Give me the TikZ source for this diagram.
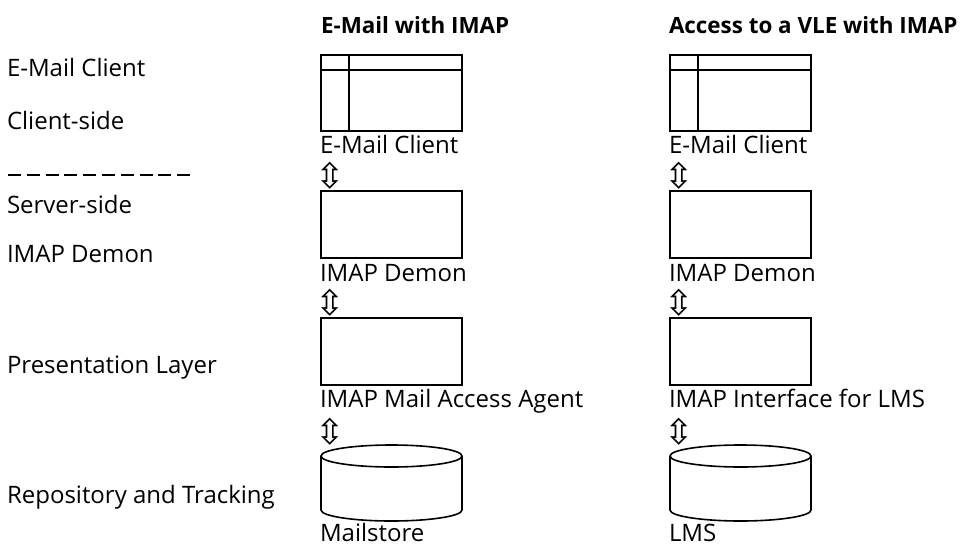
\documentclass[tikz,border=0pt]{standalone}
\usepackage{fontspec}
\setmainfont{Open Sans}
\newfontfamily\symbolfamily{DejaVu Sans}
\newcommand\lblfont{\fontsize{24}{28}\selectfont}
\newcommand\headfont{\fontsize{22.4}{26}\selectfont\bfseries}
\newcommand\updownfont{\fontsize{35}{40}\selectfont\symbolfamily}

\begin{document}
\begin{tikzpicture}[x=1pt,y=-1pt,
  lbl/.style={font=\lblfont, anchor=base west, inner sep=0pt, outer sep=0pt},
  head/.style={font=\headfont, anchor=base west, inner sep=0pt, outer sep=0pt},
  frame/.style={draw, line width=1.6pt},
  boxnode/.style={frame, anchor=north west, minimum width=141pt, minimum height=#1, inner sep=0pt, outer sep=0pt},
  updown/.style={font=\updownfont, anchor=center, inner sep=0pt},
  layerdash/.style={line width=1.2pt, dash pattern=on 13pt off 5.8pt}
]
\useasboundingbox (0,0) rectangle (964,546);

% column headings
\node[head] (h1) at (321,34) {E-Mail with IMAP};
\node[head] (h2) at (669,34) {Access to a VLE with IMAP};

% layer names on the left
\node[lbl] (l1) at (7,76) {E-Mail Client};
\node[lbl] (l2) at (7,129) {Client-side};
\coordinate (d1) at (8,175);
\coordinate (d2) at (190,175);
\draw[layerdash] (d1) -- (d2);
\node[lbl] (l3) at (7,213) {Server-side};
\node[lbl] (l4) at (7,262) {IMAP Demon};
\node[lbl] (l5) at (7,373) {Presentation Layer};
\node[lbl] (l6) at (7,503) {Repository and Tracking};

% two stacks, the second shifted right
\foreach \c/\dx/\lb/\lc in {a/0/IMAP Mail Access Agent/Mailstore,b/349/IMAP Interface for LMS/LMS}{
  \begin{scope}[xshift=\dx pt]
    % client window
    \node[boxnode=76pt] (win\c) at (321,55) {};
    \draw[frame] ([yshift=-15pt]win\c.north west) -- ([yshift=-15pt]win\c.north east);
    \draw[frame] ([xshift=28pt]win\c.north west) -- ([xshift=28pt]win\c.south west);
    \node[lbl] (winl\c) at (320,153) {E-Mail Client};
    \node[updown] (ar1\c) at (330.5,176) {⇳};

    % IMAP demon
    \node[boxnode=67pt] (dem\c) at (321,191) {};
    \node[lbl] (deml\c) at (320,281) {IMAP Demon};
    \node[updown] (ar2\c) at (330.5,303) {⇳};

    % presentation layer
    \node[boxnode=67pt] (pre\c) at (321,318) {};
    \node[lbl] (prel\c) at (320,407) {\lb};
    \node[updown] (ar3\c) at (330.5,432) {⇳};

    % repository drum
    \coordinate (dbtl\c) at (321,456);
    \coordinate (dbbl\c) at (321,510);
    \coordinate (dbtr\c) at (462,456);
    \draw[frame] ([xshift=70.5pt]dbtl\c) ellipse [x radius=70.5, y radius=11];
    \draw[frame] (dbtl\c) -- (dbbl\c) arc[start angle=180, end angle=0, x radius=70.5, y radius=11] -- (dbtr\c);
    \node[lbl] (dbl\c) at (320,541) {\lc};
  \end{scope}
}
\end{tikzpicture}
\end{document}
